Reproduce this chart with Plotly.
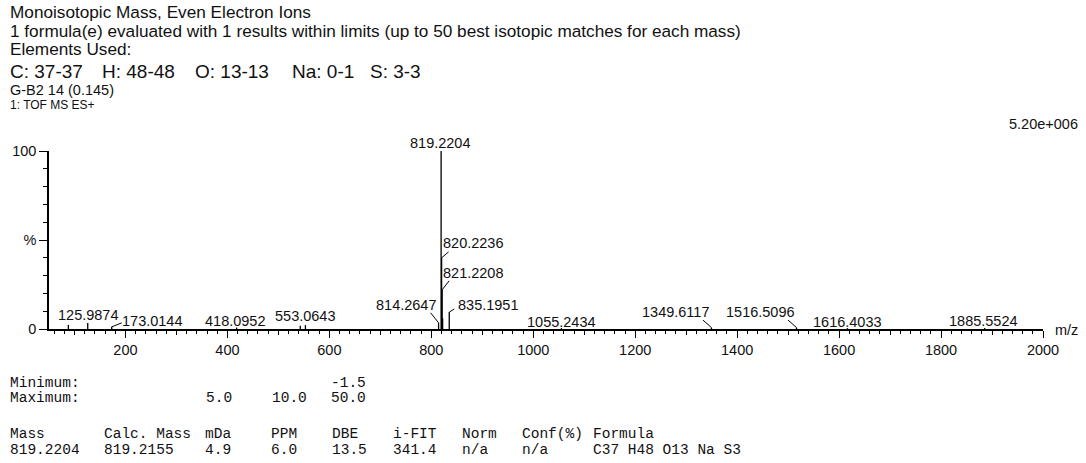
import plotly.graph_objects as go

# ---------------- data ----------------
peak_mz = [88.0, 125.9874, 173.0144, 418.0952, 543.0, 553.0643, 814.2647, 819.2204,
           820.2236, 821.2208, 822.22, 835.1951, 1055.2434, 1349.6117, 1516.5096,
           1616.4033, 1885.5524]
peak_int = [2.3, 3.4, 1.2, 0.8, 1.8, 2.2, 3.5, 100.0,
            40.0, 22.0, 6.0, 9.5, 0.5, 0.8, 0.8,
            0.5, 0.5]
peak_labels = ["", "125.9874", "173.0144", "418.0952", "", "553.0643", "814.2647", "819.2204",
               "820.2236", "821.2208", "", "835.1951", "1055.2434", "1349.6117", "1516.5096",
               "1616.4033", "1885.5524"]

x_tick_vals = [200, 400, 600, 800, 1000, 1200, 1400, 1600, 1800, 2000]
x_mid_vals = [100, 300, 500, 700, 900, 1100, 1300, 1500, 1700, 1900]
y_tick_vals = [0, 50, 100]
y_tick_text = ["0", "%", "100"]

header_lines = ["Monoisotopic Mass, Even Electron Ions",
                "1 formula(e) evaluated with 1 results within limits (up to 50 best isotopic matches for each mass)",
                "Elements Used:"]
element_items = ["C: 37-37", "H: 48-48", "O: 13-13", "Na: 0-1", "S: 3-3"]
sample_lines = ["G-B2 14 (0.145)", "1: TOF MS ES+"]
max_intensity_text = "5.20e+006"

limit_min = ["Minimum:", "", "", "", "-1.5"]
limit_max = ["Maximum:", "", "5.0", "10.0", "50.0"]
table_header = ["Mass", "Calc. Mass", "mDa", "PPM", "DBE", "i-FIT", "Norm", "Conf(%)", "Formula"]
table_values = ["819.2204", "819.2155", "4.9", "6.0", "13.5", "341.4", "n/a", "n/a", "C37 H48 O13 Na S3"]

# ---------------- styling / layout ----------------
W, H = 1086, 463
L, R, T, B = 49, 43, 151, 134
PW, PH = W - L - R, H - T - B
SANS = "Liberation Sans"
MONO = "Liberation Mono"
TXT = "#111111"


def paper_x(px):
    return (px - L) / PW


def paper_y(py):
    return (T + PH - py) / PH


# label offsets (pixels) per labelled peak: (xshift, yshift, leader dx, leader dy)
label_style = {
    "125.9874": (0, 8, None, None),
    "173.0144": (40, 6, 10, 4),
    "418.0952": (-1.5, 7, None, None),
    "553.0643": (0, 9, None, None),
    "814.2647": (-33, 18, -8, 10),
    "819.2204": (-1, 8, None, None),
    "820.2236": (31, 14.5, 7, 6),
    "821.2208": (31, 16.5, 7, 9),
    "835.1951": (39, 7, 5, 3),
    "1055.2434": (0, 6.5, None, None),
    "1349.6117": (-36, 16, -8.5, 7.5),
    "1516.5096": (-36.5, 16, -8.5, 7.5),
    "1616.4033": (0, 6.5, None, None),
    "1885.5524": (-1.5, 7.5, None, None),
}

# stick spectrum built from the data arrays
sx, sy = [], []
for m, h in zip(peak_mz, peak_int):
    sx += [m, m, None]
    sy += [0, h, None]

fig = go.Figure()
fig.add_trace(go.Scatter(x=sx, y=sy, mode="lines", line=dict(color="black", width=1.3),
                         hoverinfo="skip", showlegend=False))
# empty trace to carry the secondary (mid-tick) axis
fig.add_trace(go.Scatter(x=[None], y=[None], xaxis="x2", yaxis="y", showlegend=False,
                         hoverinfo="skip"))

annotations = []
shapes = []
for m, h, lab in zip(peak_mz, peak_int, peak_labels):
    if not lab:
        continue
    xs, ys, dx, dy = label_style[lab]
    annotations.append(dict(x=m, y=h, xref="x", yref="y", text=lab, showarrow=False,
                            xanchor="center", yanchor="middle", xshift=xs, yshift=ys,
                            font=dict(family=SANS, size=14.5, color=TXT)))
    if dx is not None:
        shapes.append(dict(type="line", xref="x", yref="y", xsizemode="pixel", ysizemode="pixel",
                           xanchor=m, yanchor=h, x0=0, y0=0, x1=dx, y1=dy,
                           line=dict(color="black", width=1)))

# header text
hdr_y = [12, 31, 49]
for t, yy in zip(header_lines, hdr_y):
    annotations.append(dict(x=paper_x(8), y=paper_y(yy), xref="paper", yref="paper", text=t,
                            showarrow=False, xanchor="left", yanchor="middle",
                            font=dict(family=SANS, size=17.2, color=TXT)))
elem_x = [8, 100, 193, 290, 368]
for t, xx in zip(element_items, elem_x):
    annotations.append(dict(x=paper_x(xx), y=paper_y(71), xref="paper", yref="paper", text=t,
                            showarrow=False, xanchor="left", yanchor="middle",
                            font=dict(family=SANS, size=19, color=TXT)))
for t, yy, fs in zip(sample_lines, [90, 104.5], [14.5, 12]):
    annotations.append(dict(x=paper_x(8), y=paper_y(yy), xref="paper", yref="paper", text=t,
                            showarrow=False, xanchor="left", yanchor="middle",
                            font=dict(family=SANS, size=fs, color=TXT)))
annotations.append(dict(x=paper_x(1080), y=paper_y(124), xref="paper", yref="paper",
                        text=max_intensity_text, showarrow=False, xanchor="right", yanchor="middle",
                        font=dict(family=SANS, size=14.5, color=TXT)))
annotations.append(dict(x=paper_x(1053), y=paper_y(330), xref="paper", yref="paper",
                        text="m/z", showarrow=False, xanchor="left", yanchor="middle",
                        font=dict(family=SANS, size=14.5, color=TXT)))

# table text
lim_x = [8, 102, 204, 270, 329]
for row, yy in ((limit_min, 383), (limit_max, 398)):
    for t, xx in zip(row, lim_x):
        if t:
            annotations.append(dict(x=paper_x(xx), y=paper_y(yy), xref="paper", yref="paper",
                                    text=t, showarrow=False, xanchor="left", yanchor="middle",
                                    font=dict(family=MONO, size=14.5, color=TXT)))
col_x = [8, 102, 203, 269, 330, 391, 460, 520, 591]
for row, yy in ((table_header, 434), (table_values, 450)):
    for t, xx in zip(row, col_x):
        annotations.append(dict(x=paper_x(xx), y=paper_y(yy), xref="paper", yref="paper",
                                text=t, showarrow=False, xanchor="left", yanchor="middle",
                                font=dict(family=MONO, size=14.5, color=TXT)))

fig.update_layout(
    width=W, height=H,
    margin=dict(l=L, r=R, t=T, b=B, pad=0),
    paper_bgcolor="white", plot_bgcolor="white",
    showlegend=False,
    xaxis=dict(range=[50, 2000], tickmode="array", tickvals=x_tick_vals,
               ticks="outside", ticklen=7, tickwidth=1.2, tickcolor="black",
               showline=True, linecolor="black", linewidth=1.5, showgrid=False, zeroline=False,
               tickfont=dict(family=SANS, size=14.5, color=TXT),
               minor=dict(dtick=20, tick0=0, ticks="outside", ticklen=3, tickwidth=1,
                          tickcolor="black", showgrid=False)),
    xaxis2=dict(range=[50, 2000], overlaying="x", anchor="y", side="bottom",
                tickmode="array", tickvals=x_mid_vals, ticks="outside", ticklen=5,
                tickwidth=1.2, tickcolor="black", showticklabels=False, showline=False,
                showgrid=False, zeroline=False),
    yaxis=dict(range=[0, 100], tickmode="array", tickvals=y_tick_vals, ticktext=y_tick_text,
               ticks="outside", ticklen=8, tickwidth=1.2, tickcolor="black",
               showline=True, linecolor="black", linewidth=1.5, showgrid=False, zeroline=False,
               tickfont=dict(family=SANS, size=14.5, color=TXT),
               minor=dict(dtick=10, tick0=0, ticks="outside", ticklen=4, tickwidth=1,
                          tickcolor="black", showgrid=False)),
    annotations=annotations,
    shapes=shapes,
)

fig.write_html("out.html", config={"displayModeBar": False},
               post_script="document.body.style.margin='0px';document.body.style.overflow='hidden';")
